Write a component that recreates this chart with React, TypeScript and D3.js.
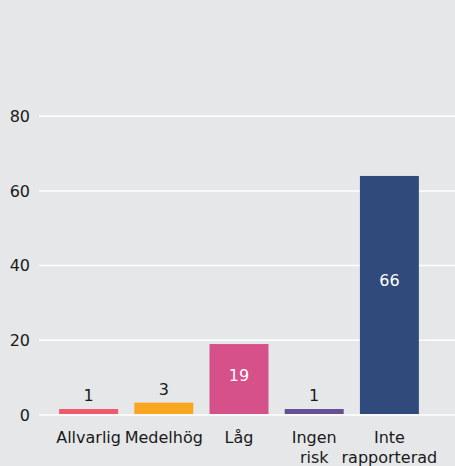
import React from "react";
import * as d3 from "d3";

const categories: string[][] = [["Allvarlig"], ["Medelhög"], ["Låg"], ["Ingen", "risk"], ["Inte", "rapporterad"]];
const barHeights: number[] = [1.6, 3.3, 19, 1.6, 64];
const valueLabels: number[] = [1, 3, 19, 1, 66];
const colors: string[] = ["#ef5a6b", "#f8a51f", "#d65189", "#664f93", "#304b7b"];
const yTicks: number[] = [0, 20, 40, 60, 80];

const W = 455;
const H = 466;

export default function App() {
  const x = d3
    .scaleBand<number>()
    .domain(categories.map((_, i) => i))
    .range([51, 427])
    .paddingInner(0.216)
    .paddingOuter(0.108);
  const y = d3.scaleLinear().domain([0, 80]).range([415, 116.2]);
  const font = "'DejaVu Sans', sans-serif";

  return (
    <svg
      width={W}
      height={H}
      style={{ position: "absolute", left: 0, top: 0, display: "block", background: "#e6e7e9" }}
      fontFamily={font}
    >
      <rect x={0} y={0} width={W} height={H} fill="#e6e7e9" />
      {yTicks.map((t) => (
        <g key={t}>
          <line x1={39} x2={W} y1={y(t)} y2={y(t)} stroke="#ffffff" strokeWidth={1.5} />
          <text x={30} y={y(t)} dy="0.36em" textAnchor="end" fontSize={16} fill="#1a1a1a">
            {t}
          </text>
        </g>
      ))}
      {barHeights.map((v, i) => {
        const bx = x(i) as number;
        const bw = x.bandwidth();
        const top = y(v);
        const inside = v > 10;
        return (
          <g key={i}>
            <rect x={bx} y={top} width={bw} height={y(0) - 1 - top} fill={colors[i]} />
            {inside ? (
              <text
                x={bx + bw / 2}
                y={y(v * 0.565)}
                dy="0.36em"
                textAnchor="middle"
                fontSize={16}
                fill="#ffffff"
              >
                {valueLabels[i]}
              </text>
            ) : (
              <text x={bx + bw / 2} y={top - 8} textAnchor="middle" fontSize={16} fill="#1a1a1a">
                {valueLabels[i]}
              </text>
            )}
            {categories[i].map((line, j) => (
              <text
                key={j}
                x={bx + bw / 2}
                y={443 + j * 19.5}
                textAnchor="middle"
                fontSize={16}
                fill="#1a1a1a"
              >
                {line}
              </text>
            ))}
          </g>
        );
      })}
    </svg>
  );
}
